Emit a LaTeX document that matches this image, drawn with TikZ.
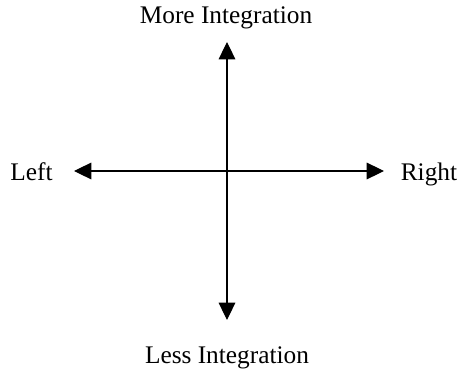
\documentclass[tikz,border=0pt]{standalone}
\usepackage{fontspec}
\setmainfont{Liberation Serif}
\usetikzlibrary{arrows.meta}
\begin{document}
\begin{tikzpicture}[x=0.75pt,y=-0.75pt,
  axis/.style={line width=0.8pt,{Triangle[length=13pt,width=12.5pt]}-{Triangle[length=13pt,width=12.5pt]}},
  lbl/.style={inner sep=0pt,anchor=base,font=\fontsize{19}{23}\selectfont}]
\useasboundingbox (0,0) rectangle (458,371);
\coordinate (N) at (227,42);
\coordinate (S) at (227,320);
\coordinate (W) at (74,171);
\coordinate (E) at (384,171);
\draw[axis] (N) -- (S);
\draw[axis] (W) -- (E);
\node[lbl] (more) at (226,23) {More Integration};
\node[lbl] (less) at (227,363) {Less Integration};
\node[lbl] (left) at (31.5,180) {Left};
\node[lbl] (right) at (429,180) {Right};
\end{tikzpicture}
\end{document}
